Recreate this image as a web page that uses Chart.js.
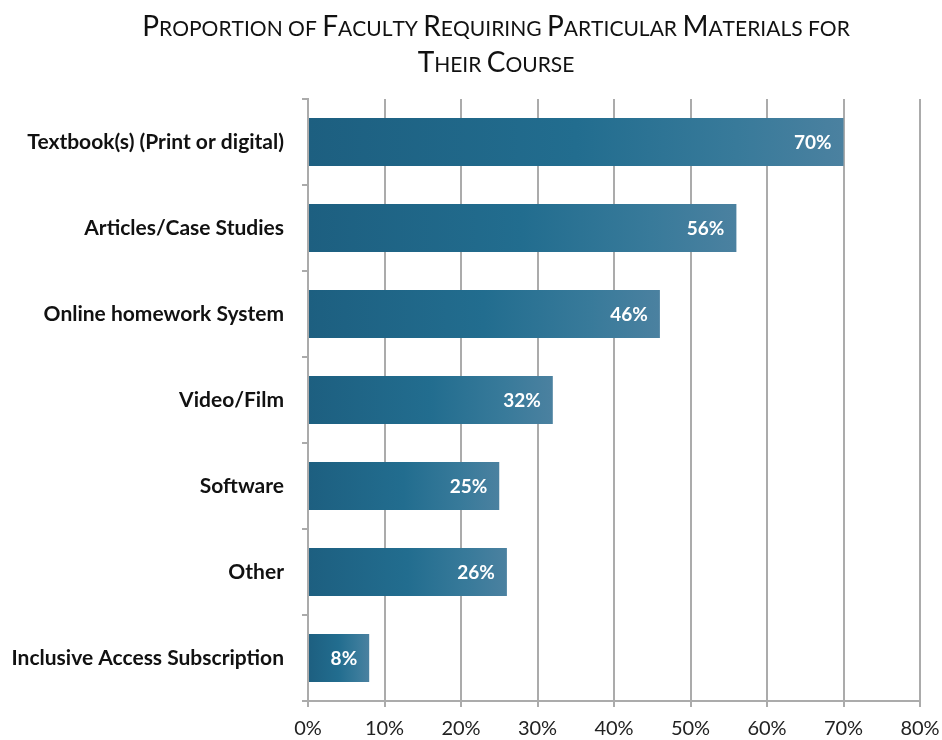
<!DOCTYPE html>
<html>
<head>
<meta charset="utf-8">
<script src="https://cdn.jsdelivr.net/npm/chart.js@4/dist/chart.umd.min.js"></script>
<style>
  html, body { margin: 0; padding: 0; background: #fff; }
  #wrap { width: 942px; height: 740px; position: relative; }
</style>
</head>
<body>
<div id="wrap"><canvas id="materialsChart"></canvas></div>
<script>
// Dữ liệu biểu đồ
const categories = [
    'Textbook(s) (Print or digital)',
    'Articles/Case Studies',
    'Online homework System',
    'Video/Film',
    'Software',
    'Other',
    'Inclusive Access Subscription'
];
const percentValues = [70, 56, 46, 32, 25, 26, 8];
const xTickValues = [0, 10, 20, 30, 40, 50, 60, 70, 80];
const titleLines = ['Proportion of Faculty Requiring Particular Materials for', 'Their Course'];

const gridGray = '#ababab';

// Gradient cho từng thanh
function barGradient(ctx) {
    const chart = ctx.chart;
    const area = chart.chartArea;
    if (!area || ctx.raw === undefined) return '#21698c';
    const xs = chart.scales.x;
    const x0 = xs.getPixelForValue(0);
    const x1 = xs.getPixelForValue(ctx.raw);
    const g = chart.ctx.createLinearGradient(x0, 0, x1, 0);
    g.addColorStop(0, '#1d5f80');
    g.addColorStop(0.5, '#226d8f');
    g.addColorStop(0.8, '#387a9a');
    g.addColorStop(1, '#4b81a0');
    return g;
}

// Nhãn giá trị bên trong thanh
const valueLabels = {
    id: 'valueLabels',
    afterDatasetsDraw(chart) {
        const ctx = chart.ctx;
        const meta = chart.getDatasetMeta(0);
        ctx.save();
        ctx.fillStyle = '#ffffff';
        ctx.font = 'bold 19px Lato';
        ctx.textAlign = 'right';
        ctx.textBaseline = 'middle';
        meta.data.forEach((bar, i) => {
            ctx.fillText(percentValues[i] + '%', bar.x - 12, bar.y + 1);
        });
        ctx.restore();
    }
};

// Tiêu đề kiểu small-caps (vẽ tay)
const smallCapsTitle = {
    id: 'smallCapsTitle',
    afterDraw(chart) {
        const ctx = chart.ctx;
        const bigFont = '28px Lato';
        const smallFont = '21px Lato';
        const cx = 496;
        const baselines = [36, 72];
        ctx.save();
        ctx.fillStyle = '#111';
        ctx.textBaseline = 'alphabetic';
        ctx.textAlign = 'left';
        titleLines.forEach((line, li) => {
            const parts = [];
            for (const ch of line) {
                const big = ch !== ch.toLowerCase();
                parts.push({ t: ch.toUpperCase(), f: big ? bigFont : smallFont });
            }
            let total = 0;
            parts.forEach(p => { ctx.font = p.f; p.w = ctx.measureText(p.t).width; total += p.w; });
            let x = cx - total / 2;
            parts.forEach(p => { ctx.font = p.f; ctx.fillText(p.t, x, baselines[li]); x += p.w; });
        });
        ctx.restore();
    }
};

const chartCtx = document.getElementById('materialsChart').getContext('2d');
const materialsChart = new Chart(chartCtx, {
    type: 'bar',
    data: {
        labels: categories,
        datasets: [{
            data: percentValues,
            backgroundColor: barGradient,
            borderWidth: 0,
            barPercentage: 0.56,
            categoryPercentage: 1.0
        }]
    },
    options: {
        indexAxis: 'y',
        responsive: true,
        maintainAspectRatio: false,
        animation: false,
        layout: { padding: { left: 0, right: 22, top: 99, bottom: 0 } },
        scales: {
            x: {
                min: 0,
                max: 80,
                afterBuildTicks(scale) {
                    scale.ticks = xTickValues.map(v => ({ value: v }));
                },
                afterFit(scale) {
                    scale.height = 39;
                    scale.paddingRight = 0;
                },
                grid: {
                    color: gridGray,
                    lineWidth: 2,
                    tickLength: 6
                },
                border: { color: gridGray, width: 2 },
                ticks: {
                    padding: 10,
                    color: '#222',
                    font: { family: 'Lato', size: 20 },
                    callback: v => v + '%'
                }
            },
            y: {
                afterFit(scale) { scale.width = 308; },
                grid: {
                    offset: true,
                    drawOnChartArea: false,
                    color: gridGray,
                    lineWidth: 2,
                    tickLength: 6
                },
                border: { color: gridGray, width: 2 },
                ticks: {
                    padding: 18,
                    color: '#111',
                    font: { family: 'Lato', size: 21, weight: 'bold' }
                }
            }
        },
        plugins: {
            legend: { display: false },
            tooltip: { enabled: false },
            title: { display: false }
        }
    },
    plugins: [valueLabels, smallCapsTitle]
});
</script>
</body>
</html>
